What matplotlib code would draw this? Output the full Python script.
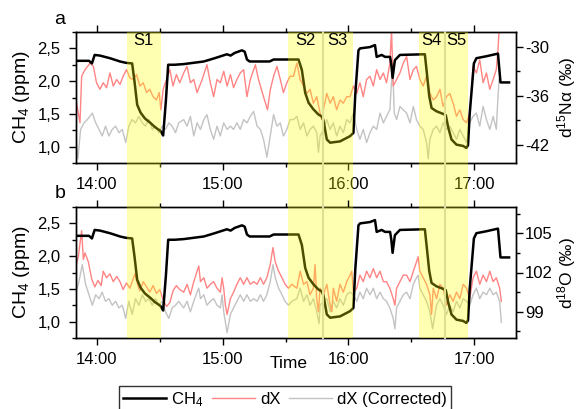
import numpy as np
import pandas as pd
import matplotlib
matplotlib.use("Agg")
import matplotlib.pyplot as plt
import matplotlib.dates as mdates
from matplotlib.ticker import MultipleLocator, FuncFormatter
from matplotlib.lines import Line2D

plt.rcParams['font.family'] = ['Liberation Sans', 'DejaVu Sans']
plt.rcParams['mathtext.fontset'] = 'custom'
plt.rcParams['mathtext.rm'] = 'Liberation Sans'
plt.rcParams['mathtext.it'] = 'Liberation Sans:italic'
plt.rcParams['axes.unicode_minus'] = False

# ---- data: minutes after 13:50 ----
ch4_min = [
    0.0, 6.2, 7.6, 8.9, 11.4, 16.2, 21.0, 23.7, 26.8, 27.9,
    29.2, 30.8, 32.9, 35.6, 37.6, 40.3, 41.6, 42.9, 44.0, 47.1,
    51.4, 61.0, 66.2, 72.0, 73.8, 75.7, 79.2, 80.5, 81.6, 82.9,
    92.4, 94.3, 99.0, 106.2, 107.8, 109.4, 111.0, 113.3, 115.7, 117.3,
    118.1, 119.7, 121.3, 126.0, 130.8, 132.4, 133.3, 134.8, 135.6, 140.3,
    142.7, 143.5, 145.9, 147.5, 149.9, 150.5, 151.1, 152.2, 154.6, 166.5,
    167.3, 168.6, 169.7, 172.0, 175.2, 176.5, 177.6, 179.2, 181.6, 184.8,
    186.3, 187.1, 187.9, 189.9, 191.1, 195.9, 201.4, 202.6, 206.7]
ch4_ppm = [
    2.31, 2.31, 2.27, 2.40, 2.39, 2.35, 2.30, 2.28, 2.27, 2.00,
    1.64, 1.52, 1.43, 1.36, 1.30, 1.24, 1.17, 1.70, 2.25, 2.25,
    2.26, 2.30, 2.35, 2.41, 2.39, 2.43, 2.47, 2.45, 2.33, 2.30,
    2.30, 2.33, 2.33, 2.33, 2.17, 1.82, 1.67, 1.57, 1.49, 1.46,
    1.40, 1.11, 1.06, 1.08, 1.16, 1.21, 1.80, 2.47, 2.50, 2.52,
    2.55, 2.37, 2.40, 2.37, 2.37, 2.25, 2.05, 2.32, 2.40, 2.41,
    2.17, 1.77, 1.59, 1.54, 1.50, 1.48, 1.30, 1.11, 1.03, 1.01,
    0.98, 1.02, 1.50, 2.27, 2.35, 2.38, 2.42, 1.98, 1.98]

d15n_min = [
    0.0, 1.9, 2.7, 4.3, 6.7, 8.3, 9.8, 11.4, 13.0, 14.6,
    16.2, 17.8, 19.4, 21.0, 22.5, 24.1, 25.7, 27.3, 28.9, 30.5,
    32.1, 33.7, 35.2, 36.8, 38.4, 39.7, 40.5, 41.6, 43.2, 44.8,
    46.3, 47.9, 49.5, 51.4, 53.0, 54.6, 56.2, 57.8, 60.2, 62.5,
    64.1, 65.7, 67.3, 68.9, 70.5, 72.1, 73.7, 75.2, 76.8, 78.4,
    80.0, 81.6, 83.2, 85.6, 87.1, 89.5, 91.4, 92.7, 94.3, 95.9,
    97.5, 99.0, 100.6, 102.2, 103.8, 105.4, 107.0, 108.6, 110.2, 111.7,
    113.3, 114.9, 116.5, 117.3, 118.1, 119.7, 121.3, 122.8, 124.4, 126.0,
    127.6, 129.2, 130.8, 132.4, 134.0, 135.5, 137.1, 138.7, 140.3, 141.9,
    143.5, 145.1, 146.7, 148.2, 149.8, 150.6, 151.4, 153.0, 154.6, 156.2,
    157.8, 159.4, 161.0, 162.5, 164.1, 165.7, 167.3, 168.9, 170.5, 172.1,
    173.7, 175.2, 176.8, 178.4, 180.0, 181.6, 183.2, 184.8, 186.4, 187.9,
    188.7, 189.5, 191.1, 192.7, 194.3, 195.9, 197.5, 199.1, 200.6, 201.4, 201.9]
d15n_dx = [
    -36.5, -39.3, -33.6, -32.8, -32.0, -32.4, -34.4, -35.2, -34.4, -35.0,
    -33.2, -34.8, -34.0, -34.6, -33.6, -32.8, -33.8, -34.0, -33.4, -34.8,
    -34.4, -35.6, -35.2, -36.1, -36.5, -35.6, -37.7, -35.2, -34.0, -32.8,
    -34.8, -33.4, -34.4, -33.2, -32.4, -34.4, -34.0, -35.6, -34.0, -32.2,
    -34.4, -36.1, -34.0, -34.4, -33.0, -34.8, -33.4, -35.0, -34.0, -33.2,
    -32.8, -36.1, -34.0, -32.2, -34.0, -36.1, -37.7, -35.3, -33.6, -32.4,
    -34.0, -35.6, -34.4, -33.6, -33.6, -32.0, -34.0, -34.8, -35.7, -35.2,
    -36.9, -36.1, -38.1, -38.9, -37.7, -35.7, -36.9, -36.1, -37.7, -36.5,
    -36.9, -36.1, -36.1, -34.8, -35.7, -34.4, -36.1, -34.0, -33.6, -34.8,
    -32.8, -34.0, -33.2, -34.4, -32.0, -28.0, -34.8, -34.0, -33.2, -32.0,
    -31.2, -34.0, -32.8, -32.4, -34.0, -34.8, -33.6, -35.7, -36.5, -36.1,
    -35.2, -37.3, -36.1, -35.7, -36.9, -38.5, -37.7, -38.9, -39.3, -38.1,
    -35.7, -32.4, -33.2, -31.6, -34.4, -33.2, -35.2, -34.0, -32.8, -30.4, -28.0]

d15n_cor_min = [
    0.0, 0.9, 2.2, 3.8, 5.4, 7.8, 9.4, 11.0, 12.5, 14.1,
    15.7, 17.3, 18.9, 20.5, 22.1, 23.7, 25.2, 26.8, 28.4, 30.0,
    31.6, 33.2, 34.8, 36.4, 37.9, 39.5, 41.1, 42.7, 44.3, 45.9,
    47.5, 49.0, 51.4, 53.0, 54.6, 56.2, 57.8, 59.4, 61.0, 62.5,
    64.1, 65.7, 67.3, 68.9, 70.5, 72.1, 73.7, 75.2, 76.8, 78.4,
    80.0, 81.6, 83.2, 84.8, 86.4, 88.0, 89.5, 91.1, 92.7, 94.3,
    95.9, 97.5, 99.0, 100.6, 102.2, 103.8, 105.4, 107.0, 108.6, 110.2,
    111.7, 113.3, 114.9, 115.7, 116.5, 118.1, 119.7, 121.3, 122.8, 124.4,
    126.0, 127.6, 129.2, 130.8, 132.4, 134.0, 135.5, 137.1, 138.7, 140.3,
    141.9, 143.5, 145.1, 146.7, 148.2, 149.8, 151.1, 151.9, 153.0, 154.6,
    156.2, 157.8, 159.4, 161.0, 162.5, 164.1, 165.7, 167.3, 168.1, 168.9,
    170.5, 172.1, 173.7, 175.2, 176.8, 178.4, 180.0, 181.6, 183.2, 184.8,
    186.4, 187.9, 189.5, 191.1, 192.7, 194.3, 195.9, 197.5, 199.1, 200.6, 201.4, 201.9]
d15n_cor = [
    -41.3, -43.7, -40.1, -39.3, -38.9, -38.1, -39.3, -40.1, -40.9, -39.7,
    -40.9, -40.1, -39.7, -40.5, -40.1, -41.7, -39.7, -38.9, -39.3, -38.5,
    -39.3, -39.7, -38.9, -40.1, -39.7, -40.5, -39.7, -40.1, -39.3, -39.7,
    -40.5, -39.3, -38.9, -39.7, -38.5, -40.9, -39.3, -40.1, -38.9, -38.3,
    -40.1, -41.3, -39.7, -40.9, -39.3, -40.1, -39.7, -40.1, -39.3, -40.1,
    -38.9, -39.3, -38.5, -37.9, -39.7, -40.1, -41.3, -43.5, -40.9, -38.3,
    -39.7, -39.3, -40.9, -40.1, -38.9, -38.9, -38.5, -40.1, -39.3, -40.9,
    -40.1, -39.7, -40.5, -42.9, -40.9, -40.1, -38.9, -40.1, -39.3, -40.9,
    -39.7, -40.5, -38.9, -39.3, -38.1, -40.1, -41.3, -40.1, -41.7, -40.5,
    -39.7, -40.1, -38.1, -39.3, -38.5, -37.7, -32.0, -38.1, -38.9, -37.3,
    -37.7, -38.1, -39.3, -37.3, -38.9, -39.7, -40.1, -41.7, -43.7, -41.3,
    -40.1, -39.7, -40.5, -39.3, -40.1, -39.7, -40.5, -41.3, -40.1, -40.9,
    -41.7, -39.3, -38.5, -38.1, -39.7, -37.3, -38.9, -40.1, -38.5, -40.1, -36.1, -34.0]

d18o_min = [
    0.0, 1.1, 2.7, 3.5, 4.3, 5.9, 7.5, 9.0, 10.5, 12.0,
    13.0, 14.6, 16.2, 17.8, 19.4, 21.0, 22.5, 24.1, 25.7, 27.3,
    28.1, 29.7, 30.5, 32.1, 33.7, 35.2, 36.8, 38.4, 40.0, 41.6,
    43.2, 44.8, 46.3, 47.9, 49.5, 51.4, 53.0, 54.6, 56.2, 57.8,
    58.6, 59.4, 61.0, 62.5, 64.1, 65.7, 67.3, 68.9, 69.7, 70.5,
    71.3, 72.1, 73.7, 75.2, 76.8, 78.4, 80.0, 81.6, 83.2, 84.8,
    86.4, 88.0, 89.5, 91.1, 92.7, 94.0, 95.1, 96.7, 98.3, 99.8,
    101.4, 103.0, 105.4, 107.0, 108.6, 110.2, 111.7, 113.3, 114.1, 114.9,
    115.7, 116.5, 118.1, 119.7, 121.3, 122.1, 122.8, 124.4, 126.0, 127.6,
    129.2, 130.8, 131.6, 132.4, 134.0, 135.5, 137.1, 138.7, 140.3, 141.9,
    143.5, 145.1, 146.7, 148.2, 149.8, 151.4, 152.2, 153.0, 154.6, 156.2,
    157.8, 159.4, 161.0, 162.5, 163.3, 164.1, 165.7, 167.3, 168.9, 169.7,
    170.5, 172.1, 173.7, 175.2, 176.8, 178.4, 180.0, 181.6, 183.2, 184.8,
    186.4, 187.9, 188.7, 189.5, 191.1, 192.7, 194.3, 195.9, 197.5, 199.1,
    200.6, 202.2, 203.0]
d18o_dx = [
    102.5, 103.2, 105.2, 103.0, 103.5, 102.8, 101.5, 100.9, 101.4, 101.0,
    102.1, 101.6, 101.9, 101.3, 101.7, 101.3, 100.7, 101.2, 100.8, 101.5,
    101.9, 100.9, 100.6, 101.3, 100.9, 100.5, 101.0, 100.4, 100.7, 99.9,
    99.4, 99.7, 100.6, 101.0, 100.7, 100.5, 101.1, 100.3, 101.3, 102.1,
    102.5, 101.3, 101.6, 100.8, 101.1, 101.3, 100.8, 100.5, 101.6, 100.8,
    99.5, 98.8, 100.0, 100.5, 101.1, 101.6, 101.1, 101.6, 101.1, 101.3,
    101.1, 101.6, 101.1, 101.6, 102.6, 103.9, 102.8, 102.1, 101.6, 101.1,
    100.8, 101.1, 100.8, 102.1, 101.1, 101.3, 100.3, 100.8, 102.6, 100.0,
    99.0, 100.8, 100.3, 101.1, 99.5, 99.0, 100.8, 99.8, 101.1, 100.5,
    101.3, 101.8, 102.1, 100.5, 100.8, 101.8, 101.3, 102.1, 101.6, 102.3,
    101.6, 102.1, 101.3, 101.3, 100.8, 100.0, 99.5, 100.8, 101.3, 101.8,
    101.8, 101.3, 102.1, 102.8, 103.2, 102.1, 101.6, 101.1, 100.3, 98.8,
    100.8, 100.0, 101.1, 100.8, 99.5, 100.3, 99.8, 100.5, 100.0, 101.1,
    100.8, 100.0, 100.8, 101.6, 102.1, 101.1, 101.8, 101.3, 102.1, 101.3,
    101.6, 100.8, 99.8]

d18o_cor_min = [
    0.0, 1.4, 3.0, 4.6, 6.2, 7.8, 9.4, 11.0, 12.5, 14.1,
    15.7, 17.3, 18.9, 20.5, 22.1, 23.7, 25.2, 26.8, 28.4, 30.0,
    31.6, 33.2, 34.8, 36.4, 37.9, 39.5, 41.1, 42.7, 44.3, 45.9,
    47.5, 49.0, 51.4, 53.0, 54.6, 56.2, 57.8, 58.6, 59.4, 61.0,
    62.5, 64.1, 65.7, 67.3, 68.9, 69.7, 70.5, 71.3, 72.1, 73.7,
    75.2, 76.8, 78.4, 80.0, 81.6, 83.2, 84.8, 86.4, 88.0, 89.5,
    91.1, 92.7, 94.0, 95.1, 96.7, 98.3, 99.8, 101.4, 103.0, 105.4,
    107.0, 108.6, 110.2, 111.7, 113.3, 114.9, 116.0, 116.5, 118.1, 119.7,
    121.3, 122.8, 124.4, 126.0, 127.6, 129.2, 130.8, 132.4, 134.0, 135.5,
    137.1, 138.7, 140.3, 141.9, 143.5, 145.1, 146.7, 148.2, 149.8, 151.4,
    152.2, 153.0, 154.6, 156.2, 157.8, 159.4, 161.0, 162.5, 163.3, 164.1,
    165.7, 167.3, 168.9, 170.2, 171.3, 172.1, 173.7, 175.2, 176.8, 178.4,
    180.0, 181.6, 183.2, 184.8, 186.4, 187.9, 189.5, 191.1, 192.7, 194.3,
    195.9, 197.5, 199.1, 200.6, 202.2, 203.0]
d18o_cor = [
    100.5, 101.3, 102.6, 101.1, 100.3, 99.5, 100.3, 100.0, 100.5, 99.8,
    100.0, 99.5, 99.8, 99.3, 99.5, 98.5, 99.8, 98.8, 100.0, 99.5,
    100.3, 99.8, 100.0, 99.5, 100.0, 99.5, 99.8, 99.0, 98.5, 99.3,
    99.5, 99.8, 99.3, 99.8, 99.0, 99.8, 100.5, 100.8, 100.0, 100.3,
    99.5, 99.8, 100.0, 99.5, 99.3, 100.3, 99.0, 98.2, 97.4, 98.8,
    99.3, 99.8, 100.3, 99.8, 100.3, 99.8, 100.0, 99.8, 100.3, 99.8,
    100.3, 101.3, 102.6, 101.6, 100.8, 100.3, 99.8, 99.5, 99.8, 100.0,
    100.8, 99.8, 100.3, 99.5, 100.0, 99.0, 98.1, 99.5, 99.8, 100.0,
    99.0, 99.8, 99.3, 100.0, 99.5, 100.3, 100.5, 100.3, 99.8, 100.5,
    100.0, 100.8, 100.3, 100.8, 100.0, 100.5, 100.0, 99.8, 99.3, 98.5,
    97.7, 99.3, 99.8, 100.3, 100.5, 100.0, 101.1, 101.6, 101.8, 100.8,
    100.3, 99.8, 99.0, 97.7, 98.8, 99.5, 100.0, 99.5, 98.8, 99.5,
    99.0, 99.8, 99.3, 100.0, 99.8, 99.5, 100.3, 100.8, 100.0, 100.5,
    100.3, 100.8, 100.3, 100.5, 99.8, 98.2]

# sampling periods (minutes after 13:50) and the two mid-period switches
period_start = [24.3, 101.4, 163.5]
period_end = [40.5, 132.0, 187.3]
switch_min = [117.8, 176.0]
period_names = ["S1", "S2", "S3", "S4", "S5"]
period_label_min = [32.4, 109.6, 124.9, 169.8, 181.6]

t0 = pd.Timestamp("2000-01-01 13:50")


def to_time(minutes):
    return t0 + pd.to_timedelta(np.asarray(minutes, dtype=float), unit="min")


W, H = 580, 409
fig = plt.figure(figsize=(W / 100, H / 100), dpi=100)
left, right = 76 / W, 516 / W
ax_a = fig.add_axes([left, 1 - 163 / H, right - left, 131 / H])
ax_b = fig.add_axes([left, 1 - 338 / H, right - left, 131 / H])
gap = (207 - 163) / 131

FS = 12
comma = FuncFormatter(lambda v, p: f"{v:.1f}".replace(".", ","))

panels = [
    (ax_a, d15n_min, d15n_dx, d15n_cor_min, d15n_cor, (-44.2, -28.2), 6, 3,
     "d$^{15}$N\u03b1 (\u2030)"),
    (ax_b, d18o_min, d18o_dx, d18o_cor_min, d18o_cor, (97.0, 107.0), 3, 1.5,
     "d$^{18}$O (\u2030)"),
]

for ax, tm, dx, tcm, dxc, ylim_r, maj_r, min_r, rlabel in panels:
    tw = ax.twinx()
    tw.plot(to_time(tcm), dxc, color="#c3c3c3", lw=1.0)
    tw.plot(to_time(tm), dx, color="#ff8484", lw=1.0)
    ax.plot(to_time(ch4_min), ch4_ppm, color="black", lw=1.8)
    ax.set_zorder(tw.get_zorder() + 1)
    ax.patch.set_visible(False)

    ax.set_xlim(to_time(0), to_time(210))
    ax.set_ylim(0.75, 2.75)
    ax.yaxis.set_major_locator(MultipleLocator(0.5))
    ax.yaxis.set_minor_locator(MultipleLocator(0.25))
    ax.yaxis.set_major_formatter(comma)
    ax.xaxis.set_major_locator(mdates.HourLocator())
    ax.xaxis.set_minor_locator(mdates.MinuteLocator(byminute=[30]))
    ax.xaxis.set_major_formatter(mdates.DateFormatter("%H:%M"))
    ax.tick_params(axis="both", which="both", direction="out", top=True,
                   labelsize=FS, width=1.0)
    ax.tick_params(axis="both", which="major", length=5)
    ax.tick_params(axis="both", which="minor", length=3)
    ax.tick_params(axis="x", which="major", pad=5)
    ax.tick_params(axis="y", which="major", pad=6)
    ax.set_ylabel("CH$_4$ (ppm)", fontsize=14)
    ax.yaxis.set_label_coords(-0.10, 0.5)

    tw.set_ylim(*ylim_r)
    tw.yaxis.set_major_locator(MultipleLocator(maj_r))
    tw.yaxis.set_minor_locator(MultipleLocator(min_r))
    tw.tick_params(axis="y", which="both", direction="out", labelsize=FS, width=1.0)
    tw.tick_params(axis="y", which="major", length=5, pad=1.5)
    tw.tick_params(axis="y", which="minor", length=3)
    tw.set_ylabel(rlabel, fontsize=12.5)
    tw.yaxis.set_label_coords(1.09, 0.5)

    for sp in list(ax.spines.values()) + list(tw.spines.values()):
        sp.set_linewidth(1.0)

    lower = -gap if ax is ax_a else 0.0
    for s in switch_min:
        ax.axvline(to_time([s])[0], ymin=lower, ymax=1, color="#d2d2d2",
                   lw=1.5, clip_on=False, zorder=9)
    for a, b in zip(period_start, period_end):
        ax.axvspan(to_time([a])[0], to_time([b])[0], ymin=lower, ymax=1,
                   facecolor="#ffff00", alpha=0.3, lw=0, clip_on=False,
                   zorder=10)

for name, m in zip(period_names, period_label_min):
    ax_a.text(to_time([m])[0], 2.73, name, ha="center", va="top",
              fontsize=FS, zorder=12)

fig.text(60 / W, 1 - 19 / H, "a", ha="center", va="center", fontsize=14)
fig.text(60 / W, 1 - 193 / H, "b", ha="center", va="center", fontsize=14)
fig.text(289 / W, 1 - 364 / H, "Time", ha="center", va="center", fontsize=12.5)

handles = [
    Line2D([], [], color="black", lw=1.8),
    Line2D([], [], color="#ff8484", lw=1.0),
    Line2D([], [], color="#c3c3c3", lw=1.0),
]
leg = fig.legend(handles, ["CH$_4$", "dX", "dX (Corrected)"], loc="upper center",
                 bbox_to_anchor=(285 / W, 1 - 386 / H), ncol=3, fontsize=FS,
                 frameon=True, fancybox=False, edgecolor="black",
                 handlelength=2.6, handletextpad=0.3, columnspacing=0.5,
                 borderpad=0.25, borderaxespad=0.0)
leg.get_frame().set_linewidth(1.0)

fig.savefig("out.png", dpi=100)
